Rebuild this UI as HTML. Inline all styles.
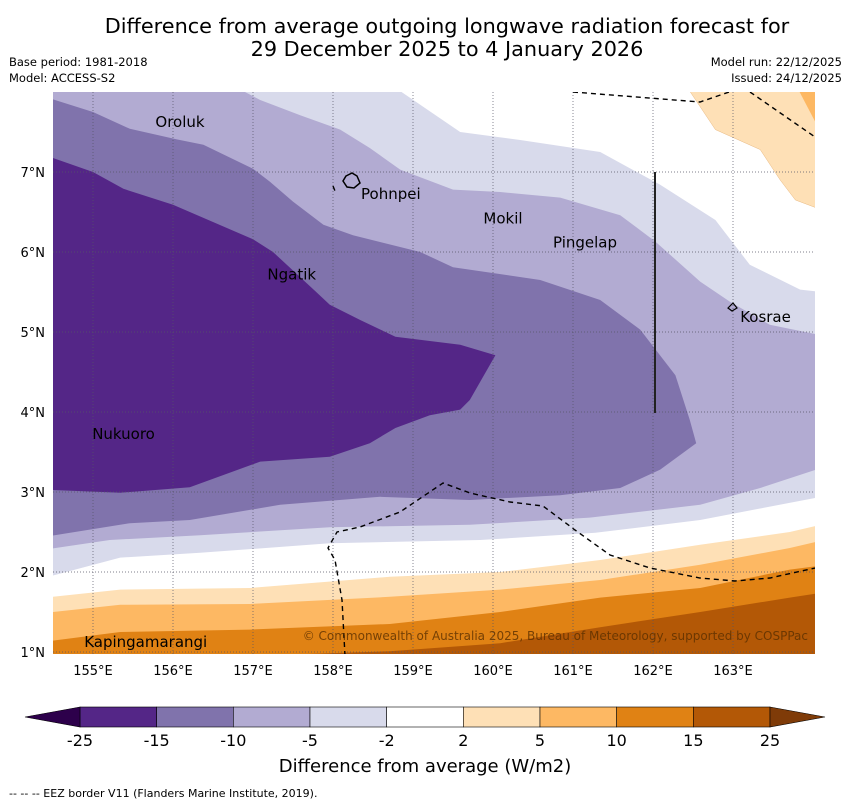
<!DOCTYPE html>
<html><head><meta charset="utf-8">
<style>
body{margin:0;background:#fff;font-family:"Liberation Sans","DejaVu Sans",sans-serif;}
svg text{font-family:"DejaVu Sans","Liberation Sans",sans-serif;}
</style></head>
<body>
<svg id="chart" width="850" height="804" xmlns="http://www.w3.org/2000/svg">
<text x="447" y="33" font-size="20.8" text-anchor="middle">Difference from average outgoing longwave radiation forecast for</text>
<text x="447" y="56" font-size="20.8" text-anchor="middle">29 December 2025 to 4 January 2026</text>
<text x="9" y="66" font-size="11.5">Base period: 1981-2018</text>
<text x="9" y="82" font-size="11.5">Model: ACCESS-S2</text>
<text x="842" y="66" font-size="11.5" text-anchor="end">Model run: 22/12/2025</text>
<text x="842" y="82" font-size="11.5" text-anchor="end">Issued: 24/12/2025</text>
<defs><clipPath id="mapclip"><rect x="53" y="92" width="762" height="562"/></clipPath></defs>
<g id="map" clip-path="url(#mapclip)"></g>
<g id="axes"></g>
<g id="cbar"></g>
<text x="425" y="772" font-size="18" text-anchor="middle">Difference from average (W/m2)</text>
<text x="9" y="797" font-size="11">--  --  -- EEZ border V11 (Flanders Marine Institute, 2019).</text>
</svg>
<script>
// ---- data (lon, lat) ----
const lonTicks=[155,156,157,158,159,160,161,162,163];
const latTicks=[1,2,3,4,5,6,7];
const levelColors=["#d8daeb","#b2abd2","#8073ac","#542687"];
const contourLt2=[[154.4,8.1],[158.71,8.1],[159.59,7.5],[160.34,7.4],[161.34,7.25],[162.09,6.84],[162.78,6.4],[163.21,5.84],[163.84,5.53],[164.1,5.5],[164.1,2.94],[162.59,2.65],[161.28,2.49],[159.84,2.4],[157.96,2.36],[156.34,2.24],[155.34,2.18],[154.4,1.93]];
const contourLt5=[[154.4,8.1],[156.71,8.1],[157.09,7.9],[157.59,7.71],[158.09,7.53],[158.46,7.3],[158.84,7.03],[159.5,6.78],[160.09,6.75],[160.84,6.68],[161.59,6.46],[162.03,6.13],[162.59,5.63],[162.96,5.38],[163.46,5.09],[164.1,4.96],[164.1,3.3],[163.34,3.05],[162.59,2.84],[161.21,2.68],[159.71,2.59],[157.96,2.56],[156.34,2.46],[155.21,2.4],[154.4,2.28]];
const contourLt10=[[154.4,7.94],[155,7.75],[155.46,7.54],[156.04,7.41],[156.38,7.34],[157,7.04],[157.21,6.88],[157.5,6.63],[157.88,6.34],[158.25,6.21],[159.09,6.0],[159.5,5.81],[160.59,5.65],[161.34,5.4],[161.84,5.03],[162.28,4.46],[162.46,3.9],[162.54,3.61],[162.09,3.28],[161.59,3.05],[160.84,2.96],[159.71,2.9],[158.59,2.94],[157.34,2.84],[156.21,2.65],[155.46,2.61],[154.4,2.44]];
const contourLt15=[[154.4,7.21],[155,7.0],[155.38,6.79],[156,6.59],[157,6.16],[157.25,6.0],[157.79,5.5],[157.96,5.34],[158.34,5.15],[158.78,4.94],[159.59,4.84],[160.03,4.71],[159.71,4.15],[159.59,4.03],[159.21,3.96],[158.78,3.8],[158.46,3.61],[157.96,3.44],[157.09,3.38],[156.21,3.06],[155.34,2.99],[154.4,3.03]];
const orangeColors=["#fee0b6","#fdb863","#e08214","#b35806"];
const bandLons=[154.4,155.34,156.96,158.71,160.09,161.34,162.59,163.71,164.1];
const bandGt2=[1.68,1.78,1.8,1.94,2.0,2.15,2.34,2.5,2.59];
const bandGt5=[1.49,1.59,1.6,1.69,1.78,1.9,2.09,2.3,2.39];
const bandGt10=[1.13,1.25,1.28,1.35,1.5,1.68,1.8,2.03,2.08];
const bandGt15=[0.9,0.9,0.95,1.01,1.11,1.31,1.5,1.68,1.74];
const cornerGt2=[[162.4,8.1],[162.78,7.53],[163.34,7.28],[163.59,6.9],[163.78,6.65],[164.1,6.53],[164.1,8.1]];
const cornerGt5=[[163.78,8.1],[164.1,8.1],[164.1,7.49]];
const islandNames=["Oroluk","Pohnpei","Mokil","Pingelap","Ngatik","Kosrae","Nukuoro","Kapingamarangi"];
const islandLon=[155.78,158.35,159.88,160.75,157.18,163.09,154.99,154.89];
const islandLat=[7.64,6.74,6.43,6.13,5.73,5.2,3.74,1.14];
const cbarLabels=["-25","-15","-10","-5","-2","2","5","10","15","25"];
const cbarColors=["#542687","#8073ac","#b2abd2","#d8daeb","#ffffff","#fee0b6","#fdb863","#e08214","#b35806"];

// ---- axes ----
const X=lon=>93+(lon-155)*80;
const Y=lat=>172-(lat-7)*80;
const NS="http://www.w3.org/2000/svg";
function mk(parent,tag,attrs){const e=document.createElementNS(NS,tag);for(const k in attrs)e.setAttribute(k,attrs[k]);parent.appendChild(e);return e;}
const map=document.getElementById('map'),axes=document.getElementById('axes'),cbar=document.getElementById('cbar');
const pts=a=>a.map(p=>X(p[0]).toFixed(1)+','+Y(p[1]).toFixed(1)).join(' ');

let p;
p=mk(map,'polygon',{points:pts(contourLt2),fill:levelColors[0]});


p=mk(map,'polygon',{points:pts(contourLt5),fill:levelColors[1]});


p=mk(map,'polygon',{points:pts(contourLt10),fill:levelColors[2]});


p=mk(map,'polygon',{points:pts(contourLt15),fill:levelColors[3]});



[bandGt2,bandGt5,bandGt10,bandGt15].forEach((b,i)=>{
  const poly=bandLons.map((l,j)=>[l,b[j]]).concat([[164.1,0.8],[154.4,0.8]]);
  const e=mk(map,'polygon',{points:pts(poly),fill:orangeColors[i]});
  
  
});
p=mk(map,'polygon',{points:pts(cornerGt2),fill:orangeColors[0],stroke:"#e8b880","stroke-width":0.5});


p=mk(map,'polygon',{points:pts(cornerGt5),fill:orangeColors[1]});



// grid
lonTicks.forEach(l=>{
  const g=mk(map,'line',{x1:X(l),x2:X(l),y1:92,y2:654,stroke:"#556",'stroke-width':0.7,'stroke-dasharray':'1,2'});
  
  
  const t=mk(axes,'text',{x:X(l),y:675,'font-size':13,'text-anchor':'middle'});t.textContent=l+'°E';
  
  
});
latTicks.forEach(l=>{
  const g=mk(map,'line',{x1:53,x2:815,y1:Y(l),y2:Y(l),stroke:"#556",'stroke-width':0.7,'stroke-dasharray':'1,2'});
  
  
  const t=mk(axes,'text',{x:45,y:Y(l)+5,'font-size':13,'text-anchor':'end'});t.textContent=l+'°N';
  
  
});

// EEZ borders
const eez=["M573,92 L700,102 L735,90","M750,92 L815,137","M345,656 L342,600 L335,560 L328,548 L337,532 L360,527 L400,512 L443,483 L470,493 L510,502 L543,506 L575,530 L610,555 L650,568 L700,578 L735,581 L770,578 L815,568","M333,186 L335,191"];
eez.forEach(d=>{const e=mk(map,'path',{d:d,fill:'none',stroke:'#000','stroke-width':1.4,'stroke-dasharray':'5,4'});
  
  });
p=mk(map,'line',{x1:655,x2:655,y1:172,y2:413,stroke:'#222','stroke-width':2});


p=mk(map,'path',{d:'M346,176 L352,173 L357,176 L360,183 L354,188 L347,187 L343,181 Z',fill:'none',stroke:'#000','stroke-width':1.5});


p=mk(map,'path',{d:'M728,308 L733,303 L737,308 L732,311 Z',fill:'none',stroke:'#000','stroke-width':1.2});



islandNames.forEach((n,i)=>{
  const t=mk(map,'text',{x:X(islandLon[i]),y:Y(islandLat[i])+6,'font-size':15});t.textContent=n;
  
  
});
p=mk(map,'text',{x:808,y:640,'font-size':12,'text-anchor':'end',fill:'#5a3000','fill-opacity':0.8});
p.textContent='© Commonwealth of Australia 2025, Bureau of Meteorology, supported by COSPPac';



// colorbar
const cbX0=80,cbW=690/9;
cbarColors.forEach((c,i)=>{
  const r=mk(cbar,'rect',{x:cbX0+i*cbW,y:707,width:cbW,height:20,fill:c,stroke:'#000','stroke-width':0.6});
  
  
});
p=mk(cbar,'polygon',{points:'80,707 25,717 80,727',fill:'#2d004b',stroke:'#000','stroke-width':0.6});


p=mk(cbar,'polygon',{points:'770,707 825,717 770,727',fill:'#7f3b08',stroke:'#000','stroke-width':0.6});


cbarLabels.forEach((l,i)=>{
  const t=mk(cbar,'text',{x:cbX0+i*cbW,y:746,'font-size':16,'text-anchor':'middle'});t.textContent=l;
  
  
});
</script>
</body></html>
